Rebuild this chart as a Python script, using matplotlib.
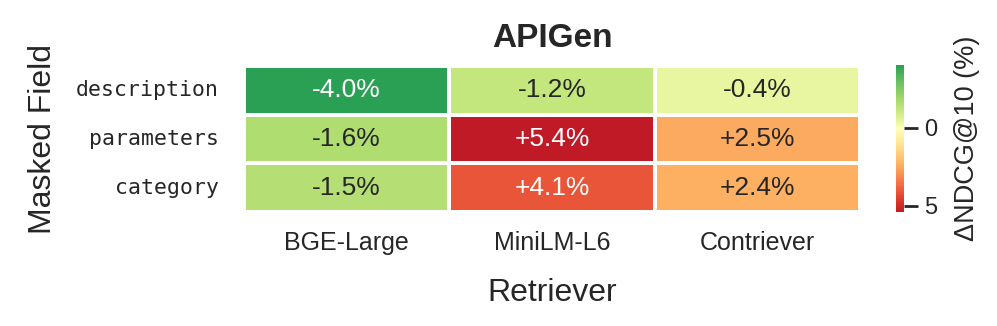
import numpy as np, matplotlib
matplotlib.use("Agg")
import matplotlib.pyplot as plt, seaborn as sns
from matplotlib.colors import ListedColormap

fields = ["description", "parameters", "category"]
retrievers = ["BGE-Large", "MiniLM-L6", "Contriever"]
delta = np.array([[-4.0, -1.2, -0.4],
                  [-1.6, 5.4, 2.5],
                  [-1.5, 4.1, 2.4]])
title = "APIGen"

sns.set_theme(style="white")
plt.rcParams['font.family'] = ['Liberation Sans', 'DejaVu Sans']
for k in ['text.color', 'axes.labelcolor', 'xtick.color', 'ytick.color']:
    plt.rcParams[k] = '#262626'

# diverging map, yellow at zero; negative side slightly compressed
lo, hi = delta.min(), delta.max()
v = np.linspace(lo, hi, 256)
pos = np.where(v < 0, 0.5 - 0.5 * (np.abs(v) / 5.7) ** 0.8, 0.5 + v / 12.2)
cmap = ListedColormap(plt.get_cmap("RdYlGn_r")(pos))

fig = plt.figure(figsize=(9.97, 3.26), dpi=100)
ax = fig.add_axes([0.2447, 0.3497, 0.6179, 0.4478])
cax = fig.add_axes([0.8987, 0.3497, 0.0085, 0.451])

annot = np.array([[f"{x:+.1f}%" if x > 0 else f"{x:.1f}%" for x in row] for row in delta])
sns.heatmap(delta, ax=ax, cbar_ax=cax, cmap=cmap, vmin=lo, vmax=hi,
            annot=annot, fmt="", linewidths=1.5, linecolor="white",
            annot_kws={"fontsize": 19},
            xticklabels=retrievers, yticklabels=fields)

# dark cells get white text
for t, x in zip(ax.texts, delta.flatten()):
    t.set_color("white" if abs(x) >= 3.5 else "#262626")

ax.set_title(title, fontsize=24, fontweight="bold", pad=14)
ax.set_xlabel("Retriever", fontsize=23, labelpad=16)
ax.set_ylabel("Masked Field", fontsize=23, labelpad=13)
ax.tick_params(axis="x", labelsize=18, length=0, pad=14, rotation=0)
ax.tick_params(axis="y", length=0, pad=18, rotation=0)
for lab in ax.get_yticklabels():
    lab.set_fontfamily("DejaVu Sans Mono")
    lab.set_fontsize(15.5)

cax.invert_yaxis()
cax.set_yticks([0, 5])
cax.tick_params(axis="y", right=True, length=10, width=2, labelsize=17, pad=4)
cax.set_ylabel("ΔNDCG@10 (%)", fontsize=19.5, labelpad=12)
for s in cax.spines.values():
    s.set_visible(False)

fig.savefig("out.png", dpi=100)
